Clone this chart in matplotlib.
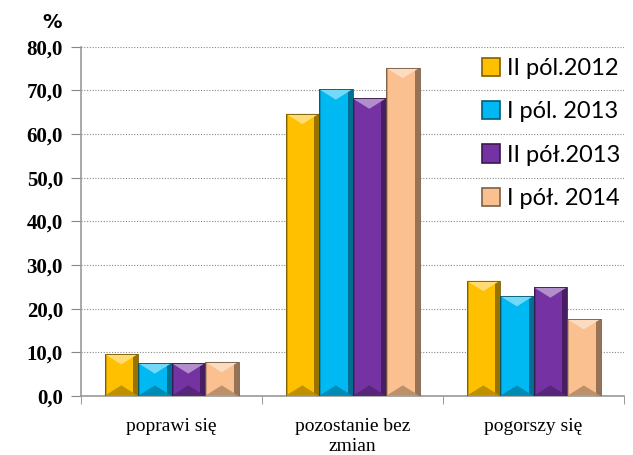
import matplotlib.pyplot as plt
import numpy as np
from matplotlib.patches import Polygon, Rectangle, Patch
from matplotlib.colors import to_rgb

categories = ['poprawi się', 'pozostanie bez\nzmian', 'pogorszy się']
series = ['II pól.2012', 'I pól. 2013', 'II pół.2013', 'I pół. 2014']
values = [
    [9.6, 64.7, 26.4],
    [7.5, 70.3, 22.9],
    [7.5, 68.2, 24.9],
    [7.8, 75.2, 17.6],
]
colors = ['#FFC000', '#00B9F2', '#7432A2', '#FAC08F']
yticks = np.arange(0, 81, 10)


def shade(c, f):
    r = np.array(to_rgb(c))
    if f < 1:
        return tuple(r * f)
    return tuple(r + (1 - r) * (f - 1))


fig = plt.figure(figsize=(6.33, 4.55), dpi=100)
ax = fig.add_axes([0.128, 0.130, 0.858, 0.767])

x = np.arange(len(categories))
w = 0.185
for i, (vals, c) in enumerate(zip(values, colors)):
    pos = x + (i - 1.5) * w
    ax.bar(pos, vals, w, color=c, linewidth=0, zorder=3)
    for p, v in zip(pos, vals):
        l, r = p - w / 2, p + w / 2
        b = min(2.4, v / 2)
        # right dark edge
        ax.add_patch(Rectangle((r - w * 0.14, 0), w * 0.14, v, color=shade(c, 0.6), zorder=4, lw=0))
        # left slight dark edge
        ax.add_patch(Rectangle((l, 0), w * 0.06, v, color=shade(c, 0.8), zorder=4, lw=0))
        # top bevel
        ax.add_patch(Polygon([(l, v), (r, v), (p, v - b)], closed=True,
                             color=shade(c, 1.45), zorder=5, lw=0))
        # bottom bevel
        ax.add_patch(Polygon([(l, 0), (r, 0), (p, b)], closed=True,
                             color=shade(c, 0.75), zorder=5, lw=0))
        ax.add_patch(Rectangle((l, 0), w, v, fill=False, ec=shade(c, 0.45), lw=0.6, zorder=6))

ax.set_ylim(0, 80)
ax.set_xlim(-0.5, 2.5)
ax.set_yticks(yticks)
ax.set_yticklabels([f'{t:.1f}'.replace('.', ',') for t in yticks],
                   fontfamily='Liberation Serif', fontweight='bold', fontsize=15)
ax.set_xticks(x)
ax.set_xticklabels(categories, fontfamily='Liberation Serif', fontsize=14, linespacing=1.25)
ax.set_xticks([-0.5, 0.5, 1.5, 2.5], minor=True)
ax.tick_params(axis='x', which='major', length=0, pad=16)
ax.tick_params(axis='x', which='minor', length=6, color='#888888', direction='out')
ax.tick_params(axis='y', length=7, color='#888888', pad=6)
ax.grid(axis='y', linestyle=(0, (1, 1.5)), color='#888888', linewidth=0.8, zorder=0)
for s in ['top', 'right']:
    ax.spines[s].set_visible(False)
for s in ['left', 'bottom']:
    ax.spines[s].set_color('#999999')
    ax.spines[s].set_linewidth(1.2)

fig.text(0.082, 0.950, '%', fontsize=14, fontweight='bold', fontfamily='DejaVu Sans',
         ha='center', va='center')

handles = [Patch(facecolor=c, edgecolor=shade(c, 0.5), linewidth=1.2) for c in colors]
leg = ax.legend(handles, series, loc='upper left', bbox_to_anchor=(0.72, 0.995), frameon=False,
                prop={'family': 'Lato', 'size': 17}, handlelength=0.8, handleheight=0.8,
                handletextpad=0.3, labelspacing=0.93, borderaxespad=0)

fig.savefig('out.png', dpi=100)
